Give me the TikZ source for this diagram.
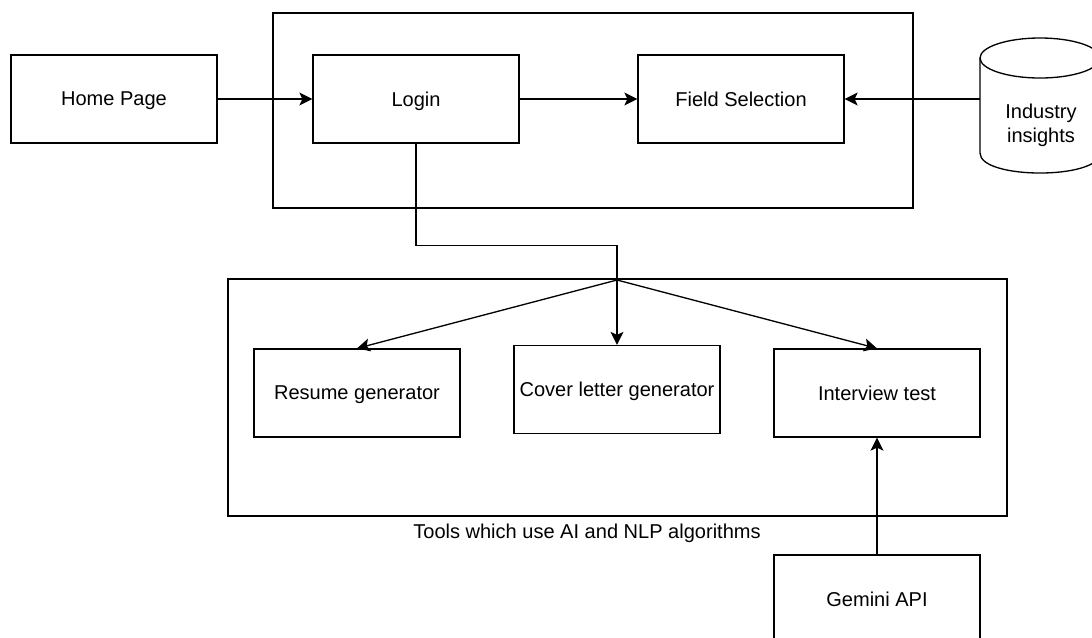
\documentclass[tikz,border=0pt]{standalone}
\usepackage{fontspec}
\setmainfont{Liberation Sans}
\usetikzlibrary{arrows.meta}

\begin{document}
\begin{tikzpicture}[x=0.02cm,y=-0.02cm,
		txt/.style={font=\fontsize{11.4}{13.7}\selectfont},
		box/.style={txt,draw,line width=0.75pt,minimum width=4.12cm,minimum height=1.76cm,inner sep=0pt,text depth=0pt},
		frame/.style={draw,line width=0.75pt},
		arr/.style={line width=0.75pt,-{Stealth[length=2.6mm,width=2.6mm,inset=0.6mm]}}]
		\useasboundingbox (0,0) rectangle (1092,637);
		%TOP
		\draw[frame] (273,13) rectangle (913,208);
		\node[box] (home) at (114,99) {Home Page};
		\node[box] (login) at (416,99) {Login};
		\node[box] (field) at (741,99) {Field Selection};
		\draw[arr] (home) -- (login);
		\draw[arr] (login) -- (field);
		
		%DATABASE
		\node[minimum width=2.4cm,minimum height=2.7cm,inner sep=0pt] (db) at (1040,105.5) {};
		\draw[frame] (1040,58) ellipse [x radius=60,y radius=20];
		\draw[frame] (980,58) -- (980,153) .. controls (980,179.7) and (1100,179.7) .. (1100,153) -- (1100,58);
		\node[txt,align=center] (dbtext) at (1041,125) {Industry\\insights};
		\draw[arr] (db.west |- field.east) -- (field.east);
		
		%TOOLS
		\draw[frame] (228,279) rectangle (1007,516);
		\node[box] (resume) at (357,393) {Resume generator};
		\node[box] (cover) at (617,389.5) {Cover letter generator};
		\node[box] (interview) at (877,393) {Interview test};
		\node[txt] (toolslbl) at (587,533) {Tools which use AI and NLP algorithms};
		\coordinate (split) at (617,280);
		\draw[arr] (login.south) -- ++(0,102) -| (cover.north);
		\draw[arr] (split) -- (resume.north);
		\draw[arr] (split) -- (interview.north);
		
		%API
		\node[box] (gemini) at (877,599) {Gemini API};
		\draw[arr] (gemini) -- (interview);
	\end{tikzpicture}
\end{document}
